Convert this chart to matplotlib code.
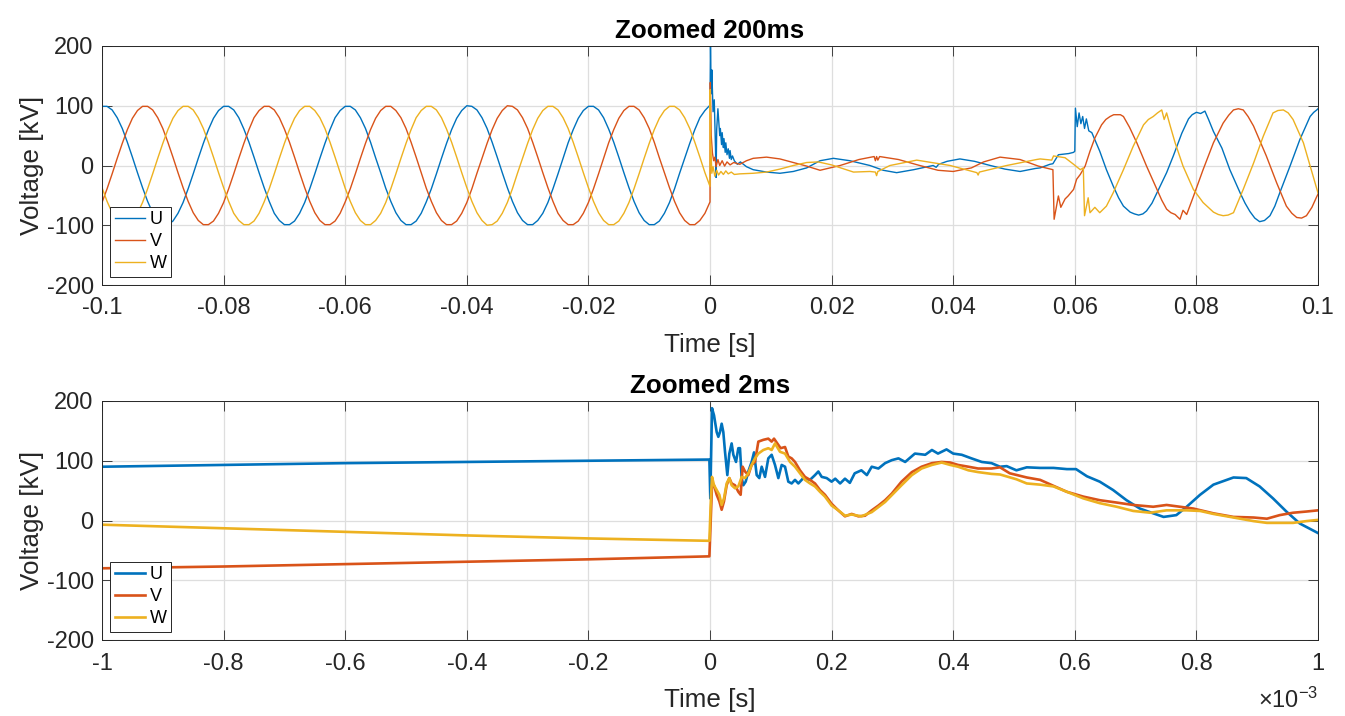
"""
Fault record: three phase voltages, 200 ms and 2 ms windows.
"""

import numpy as np
import matplotlib.pyplot as plt
from matplotlib.ticker import FuncFormatter

plt.rcParams["font.family"] = ["Liberation Sans", "DejaVu Sans"]
plt.rcParams["axes.unicode_minus"] = False
plt.rcParams["mathtext.fontset"] = "custom"
plt.rcParams["mathtext.rm"] = "Liberation Sans"

PHASES = ["U", "V", "W"]
COLORS = ["#0072BD", "#D95319", "#EDB120"]
INK = "#262626"

# ---------------------------------------------------------------------------
# Zoomed 200 ms (time in s, voltage in kV)
# pre-fault part, read every 1/1200 s from -0.1 s to 0 s
t_pre = np.linspace(-0.1, 0.0, 121)
u_pre = [99, 99, 93, 80, 62, 39, 14, -12, -37, -60, -79, -92, -99, -99, -93, -80, -62, -39, -14, 12, 37, 60, 79, 92,
         99, 99, 93, 80, 61, 39, 14, -12, -37, -60, -80, -92, -99, -99, -93, -80, -62, -39, -14, 12, 37, 60, 80, 92,
         99, 99, 93, 80, 62, 39, 13, -12, -38, -60, -79, -92, -99, -99, -93, -80, -61, -39, -14, 12, 37, 60, 79, 92,
         100, 99, 93, 80, 62, 39, 14, -12, -37, -60, -79, -92, -99, -99, -92, -80, -62, -39, -14, 12, 38, 60, 79, 92,
         99, 99, 93, 80, 61, 39, 14, -12, -37, -60, -79, -92, -99, -99, -93, -80, -62, -39, -13, 12, 37, 60, 80, 92,
         101]
v_pre = [-62, -39, -14, 12, 37, 60, 79, 92, 99, 99, 93, 80, 62, 39, 14, -12, -37, -60, -79, -92, -99, -99, -93, -80,
         -62, -39, -14, 12, 37, 60, 80, 92, 99, 99, 93, 80, 61, 39, 14, -12, -37, -60, -79, -92, -99, -99, -93, -80,
         -61, -39, -14, 12, 37, 60, 79, 92, 99, 99, 92, 80, 62, 39, 14, -12, -38, -60, -79, -92, -99, -99, -93, -80,
         -62, -39, -13, 12, 37, 60, 79, 92, 100, 99, 93, 80, 62, 39, 14, -12, -37, -60, -80, -92, -99, -99, -93, -80,
         -62, -39, -14, 12, 38, 60, 79, 92, 99, 99, 93, 80, 62, 39, 13, -12, -37, -60, -79, -92, -99, -99, -92, -80,
         -61]
w_pre = [-37, -60, -79, -92, -99, -99, -93, -80, -62, -39, -14, 12, 37, 60, 79, 92, 99, 99, 93, 80, 62, 39, 14, -12,
         -37, -60, -80, -92, -99, -99, -93, -80, -61, -39, -14, 12, 37, 60, 79, 92, 99, 99, 92, 80, 62, 39, 14, -12,
         -38, -60, -79, -92, -99, -99, -92, -80, -62, -39, -14, 12, 37, 60, 80, 92, 99, 99, 93, 80, 61, 39, 14, -12,
         -37, -60, -79, -92, -100, -99, -93, -80, -62, -39, -13, 12, 37, 60, 79, 92, 99, 99, 93, 80, 62, 39, 14, -12,
         -37, -60, -79, -92, -99, -99, -93, -80, -62, -39, -14, 12, 37, 60, 79, 92, 99, 99, 93, 80, 62, 39, 14, -12,
         -35]

# fault and recovery, read point by point
t_u_post = [0.00008, 0.0002, 0.0003, 0.0005, 0.0007, 0.0008, 0.0009, 0.0010,
            0.0011, 0.0013, 0.0014, 0.0016, 0.0017, 0.0019, 0.0020, 0.0022,
            0.0023, 0.0025, 0.0026, 0.0028, 0.0030, 0.0032, 0.0033, 0.0035,
            0.0037, 0.0040, 0.0045, 0.0050, 0.0060, 0.0071, 0.0093, 0.0115,
            0.0137, 0.0159, 0.0181, 0.0203, 0.0230, 0.0263, 0.0285, 0.0307,
            0.0335, 0.0367, 0.0372, 0.0376, 0.0390, 0.0411, 0.0435, 0.0461,
            0.0485, 0.0510, 0.0535, 0.0543, 0.0559, 0.0564, 0.0573, 0.0590,
            0.0598, 0.0600, 0.0601, 0.0604, 0.0607, 0.0610, 0.0613, 0.0616,
            0.0619, 0.0623, 0.0628, 0.0633, 0.0641, 0.0652, 0.0663, 0.0672,
            0.0680, 0.0691, 0.0698, 0.0705, 0.0712, 0.0718, 0.0727, 0.0735,
            0.0751, 0.0762, 0.0776, 0.0787, 0.0793, 0.0800, 0.0807, 0.0814,
            0.0820, 0.0828, 0.0842, 0.0855, 0.0872, 0.0880, 0.0888, 0.0896,
            0.0904, 0.0912, 0.0921, 0.0929, 0.0937, 0.0954, 0.0970, 0.0987,
            0.0993, 0.0998, 0.1000]
u_post = [200, 120, 160, 90, 110, 70, 30, -20,
          60, 95, 80, 50, 62, 35, 55, 30,
          45, 22, 38, 18, 28, 12, 25, 10,
          16, 8, 2, 6, -2, -7, -11, -13,
          -10, -4, 8, 12, 8, 0, -8, -12,
          -7, 0, -3, 2, 7, 11, 7, 0,
          -6, -10, -5, -4, 2, 3, 18, 20,
          22, 24, 96, 65, 88, 70, 82, 62,
          78, 58, 55, 43, 24, -7, -34, -54,
          -68, -78, -81, -83, -81, -76, -63, -46,
          -12, 16, 54, 78, 85, 89, 87, 91,
          77, 57, 29, -7, -46, -63, -77, -88,
          -94, -92, -84, -68, -46, -1, 43, 82,
          89, 93, 95]

t_v_post = [0.00005, 0.0002, 0.0004, 0.0006, 0.0008, 0.0010, 0.0013, 0.0016,
            0.0020, 0.0024, 0.0028, 0.0033, 0.0039, 0.0049, 0.0060, 0.0071,
            0.0093, 0.0115, 0.0137, 0.0159, 0.0181, 0.0214, 0.0245, 0.0270,
            0.0272, 0.0274, 0.0276, 0.0279, 0.0310, 0.0345, 0.0375, 0.0400,
            0.0430, 0.0450, 0.0477, 0.0510, 0.0540, 0.0564, 0.0566, 0.0573,
            0.0577, 0.0584, 0.0589, 0.0598, 0.0603, 0.0609, 0.0617, 0.0625,
            0.0633, 0.0644, 0.0651, 0.0658, 0.0664, 0.0669, 0.0675, 0.0680,
            0.0690, 0.0702, 0.0718, 0.0735, 0.0743, 0.0751, 0.0758, 0.0765,
            0.0773, 0.0778, 0.0784, 0.0795, 0.0811, 0.0828, 0.0844, 0.0853,
            0.0861, 0.0869, 0.0877, 0.0885, 0.0894, 0.0915, 0.0932, 0.0948,
            0.0957, 0.0965, 0.0973, 0.0981, 0.0990, 0.0998, 0.1000]
v_post = [139, 50, 21, 8, 14, -2, 10, 0,
          8, -1, 6, 1, 5, 2, 8, 12,
          14, 11, 5, -1, -8, 0, 10, 15,
          8, 15, 9, 15, 10, 0, -8, -10,
          -4, 6, 14, 10, -1, -7, -90, -51,
          -70, -56, -51, -40, -23, -15, -1, 24,
          46, 68, 77, 82, 85, 85, 85, 82,
          64, 38, -1, -40, -58, -73, -79, -82,
          -90, -75, -82, -52, -7, 38, 71, 84,
          93, 95, 93, 82, 66, 16, -29, -68,
          -80, -87, -88, -84, -70, -52, -48]

t_w_post = [0.00003, 0.0001, 0.0003, 0.0005, 0.0008, 0.0011, 0.0014, 0.0018,
            0.0022, 0.0026, 0.0030, 0.0035, 0.0040, 0.0049, 0.0071, 0.0093,
            0.0115, 0.0137, 0.0159, 0.0178, 0.0200, 0.0236, 0.0263, 0.0272,
            0.0274, 0.0276, 0.0296, 0.0340, 0.0395, 0.0439, 0.0441, 0.0443,
            0.0488, 0.0537, 0.0543, 0.0562, 0.0565, 0.0584, 0.0598, 0.0609,
            0.0614, 0.0616, 0.0622, 0.0625, 0.0633, 0.0641, 0.0652, 0.0663,
            0.0680, 0.0696, 0.0713, 0.0721, 0.0729, 0.0736, 0.0743, 0.0747,
            0.0751, 0.0757, 0.0765, 0.0778, 0.0795, 0.0811, 0.0828, 0.0836,
            0.0844, 0.0852, 0.0861, 0.0877, 0.0894, 0.0910, 0.0926, 0.0934,
            0.0943, 0.0951, 0.0959, 0.0976, 0.0992, 0.1000]
w_post = [127, 42, -13, -2, -18, -8, -16, -10,
          -15, -9, -14, -11, -15, -14, -13, -11,
          -6, 0, 5, 6, 1, -11, -10, -11,
          -17, -10, 0, 9, 0, -12, -16, -11,
          0, 10, 11, 9, 16, 13, 2, -7,
          -4, -84, -54, -79, -70, -79, -68, -46,
          -7, 32, 68, 77, 82, 88, 93, 77,
          88, 66, 38, -1, -40, -62, -78, -82,
          -84, -83, -79, -40, 4, 49, 88, 92,
          93, 88, 77, 38, -18, -46]

# ---------------------------------------------------------------------------
# Zoomed 2 ms (time in ms, voltage in kV)
t_u_2ms = [-1.0, -0.8, -0.6, -0.4, -0.2, -0.001, 0.0005, 0.0033, 0.0066,
           0.011, 0.0137, 0.0164, 0.0192, 0.0219, 0.0247, 0.0285, 0.0318,
           0.0356, 0.0384, 0.0428, 0.0466, 0.0493, 0.0521, 0.0548, 0.0587,
           0.063, 0.0685, 0.0724, 0.0768, 0.0811, 0.085, 0.0905, 0.0959,
           0.1014, 0.1069, 0.1124, 0.1179, 0.1234, 0.1288, 0.1343, 0.1398,
           0.1453, 0.1535, 0.1645, 0.1727, 0.1782, 0.1837, 0.1919, 0.200,
           0.206, 0.214, 0.222, 0.230, 0.238, 0.249, 0.258, 0.266, 0.277,
           0.288, 0.299, 0.310, 0.321, 0.337, 0.354, 0.365, 0.375, 0.389,
           0.400, 0.414, 0.430, 0.447, 0.463, 0.477, 0.488, 0.504, 0.521,
           0.543, 0.565, 0.587, 0.602, 0.620, 0.641, 0.663, 0.685, 0.707,
           0.729, 0.746, 0.767, 0.784, 0.806, 0.828, 0.850, 0.861, 0.882,
           0.904, 0.926, 0.948, 0.970, 1.0]
u_2ms = [90, 93, 96, 98, 100, 102, 37, 188, 176,
         148, 140, 148, 162, 148, 115, 76, 112,
         129, 110, 98, 121, 121, 71, 59, 65,
         82, 98, 114, 76, 71, 90, 73, 104,
         110, 93, 71, 93, 90, 65, 62, 68,
         62, 71, 68, 76, 82, 73, 71, 65,
         70, 62, 70, 63, 79, 84, 76, 90, 87,
         96, 101, 104, 98, 112, 110, 118, 112, 119,
         112, 110, 104, 98, 96, 90, 91, 84, 89,
         88, 88, 86, 86, 74, 65, 51, 34, 20,
         12, 6, 9, 23, 43, 60, 68, 72, 71,
         57, 37, 15, -5, -21]

t_v_2ms = [-1.0, -0.8, -0.6, -0.4, -0.2, -0.001, 0.0011, 0.0033, 0.0066,
           0.011, 0.0154, 0.0192, 0.023, 0.0274, 0.0318, 0.0356, 0.0411,
           0.0466, 0.0504, 0.0537, 0.0576, 0.063, 0.0685, 0.074, 0.0795,
           0.0877, 0.0959, 0.1014, 0.1053, 0.1107, 0.1162, 0.1234, 0.1288,
           0.1343, 0.1398, 0.148, 0.1562, 0.1645, 0.1727, 0.1809, 0.1891,
           0.200, 0.211, 0.222, 0.233, 0.244, 0.255, 0.266, 0.277, 0.288,
           0.299, 0.315, 0.332, 0.348, 0.365, 0.381, 0.395, 0.408, 0.425,
           0.441, 0.463, 0.477, 0.493, 0.521, 0.543, 0.565, 0.587, 0.614,
           0.641, 0.669, 0.696, 0.729, 0.751, 0.773, 0.795, 0.828, 0.861,
           0.894, 0.916, 0.937, 0.959, 0.981, 1.0]
v_2ms = [-80, -77, -73, -69, -65, -60, -2, 59, 59,
         43, 32, 18, 32, 59, 71, 62, 59,
         48, 43, 90, 82, 76, 93, 98, 132,
         135, 137, 132, 137, 129, 121, 123, 107,
         104, 98, 84, 73, 68, 62, 51, 43,
         28, 17, 7, 11, 7, 8, 17, 25, 34,
         45, 65, 81, 90, 96, 98, 97, 93, 90,
         87, 87, 89, 79, 72, 68, 58, 48, 40,
         34, 30, 26, 23, 26, 23, 20, 12, 6,
         5, 3, 9, 13, 15, 17]

t_w_2ms = [-1.0, -0.8, -0.6, -0.4, -0.2, -0.001, 0.0011, 0.0033, 0.0066,
           0.011, 0.0154, 0.0192, 0.023, 0.0274, 0.0318, 0.0356, 0.0411,
           0.0466, 0.0521, 0.0576, 0.063, 0.0685, 0.074, 0.0795, 0.0877,
           0.0959, 0.1014, 0.1069, 0.1151, 0.1234, 0.1316, 0.1398, 0.148,
           0.1562, 0.1645, 0.1727, 0.1809, 0.1891, 0.200, 0.211, 0.222,
           0.233, 0.249, 0.266, 0.288, 0.315, 0.332, 0.348, 0.365, 0.381,
           0.395, 0.408, 0.425, 0.441, 0.463, 0.477, 0.504, 0.521, 0.543,
           0.565, 0.587, 0.614, 0.641, 0.669, 0.696, 0.724, 0.751, 0.784,
           0.806, 0.828, 0.861, 0.894, 0.916, 0.937, 0.959, 0.981, 1.0]
w_2ms = [-7, -13, -19, -25, -30, -34, 26, 73, 59,
         51, 43, 26, 37, 62, 71, 59, 54,
         57, 73, 71, 79, 93, 104, 112, 118,
         121, 118, 129, 115, 112, 98, 90, 79,
         68, 62, 57, 48, 40, 25, 17, 8,
         10, 7, 14, 31, 59, 76, 87, 93, 97,
         93, 90, 84, 81, 78, 77, 69, 62, 60,
         57, 48, 37, 29, 23, 16, 13, 17, 17,
         16, 11, 5, -1, -4, -4, -4, -1, 1]


def style_axes(ax, title):
    ax.set_ylim(-200, 200)
    ax.set_yticks([-200, -100, 0, 100, 200])
    ax.grid(True, color="#dedede", lw=0.9)
    ax.set_axisbelow(True)
    ax.tick_params(direction="in", top=True, right=True, length=7.5,
                   width=0.6, colors=INK, labelsize=17)
    ax.tick_params(axis="x", pad=9)
    ax.tick_params(axis="y", pad=6)
    for sp in ax.spines.values():
        sp.set_color(INK)
        sp.set_linewidth(0.7)
    ax.set_ylabel("Voltage [kV]", fontsize=18.7, color=INK, labelpad=2)
    ax.set_xlabel("Time [s]", fontsize=18.7, color=INK, labelpad=10)
    ax.set_title(title, fontsize=18.7, fontweight="bold", color="black", pad=6)
    ax.legend(PHASES, loc="lower left", fontsize=13, frameon=True,
              fancybox=False, edgecolor=INK, framealpha=1,
              handlelength=1.7, handletextpad=0.25, borderpad=0.25,
              labelspacing=0.28, borderaxespad=0.45)
    ax.get_legend().get_frame().set_linewidth(0.7)


fig = plt.figure(figsize=(13.45, 7.16), dpi=100)
ax1 = fig.add_axes([102 / 1345, 1 - 285 / 716, 1216 / 1345, 239 / 716])
ax2 = fig.add_axes([102 / 1345, 1 - 640 / 716, 1216 / 1345, 239 / 716])

# top: 200 ms window
top = [(u_pre, t_u_post, u_post), (v_pre, t_v_post, v_post),
       (w_pre, t_w_post, w_post)]
for (pre, tp, vp), c in zip(top, COLORS):
    t = np.concatenate([t_pre, tp])
    v = np.concatenate([pre, vp])
    ax1.plot(t, v, color=c, lw=1.0)
ax1.set_xlim(-0.1, 0.1)
ax1.set_xticks(np.round(np.arange(-0.1, 0.1001, 0.02), 2))
ax1.xaxis.set_major_formatter(FuncFormatter(lambda x, _: f"{round(x, 3):g}"))
style_axes(ax1, "Zoomed 200ms")

# bottom: 2 ms window
bottom = [(t_u_2ms, u_2ms), (t_v_2ms, v_2ms), (t_w_2ms, w_2ms)]
for (tm, vm), c in zip(bottom, COLORS):
    ax2.plot(np.array(tm) * 1e-3, vm, color=c, lw=1.9)
ax2.set_xlim(-1e-3, 1e-3)
ax2.set_xticks(np.round(np.arange(-1.0, 1.001, 0.2), 1) * 1e-3)
ax2.xaxis.set_major_formatter(
    FuncFormatter(lambda x, _: f"{round(x * 1e3, 2) + 0:g}"))
style_axes(ax2, "Zoomed 2ms")
fig.text(1318 / 1345, 3 / 716, r"$\times\mathregular{10^{-3}}$",
         ha="right", va="bottom", fontsize=17, color=INK)

fig.savefig("out.png", dpi=100)
